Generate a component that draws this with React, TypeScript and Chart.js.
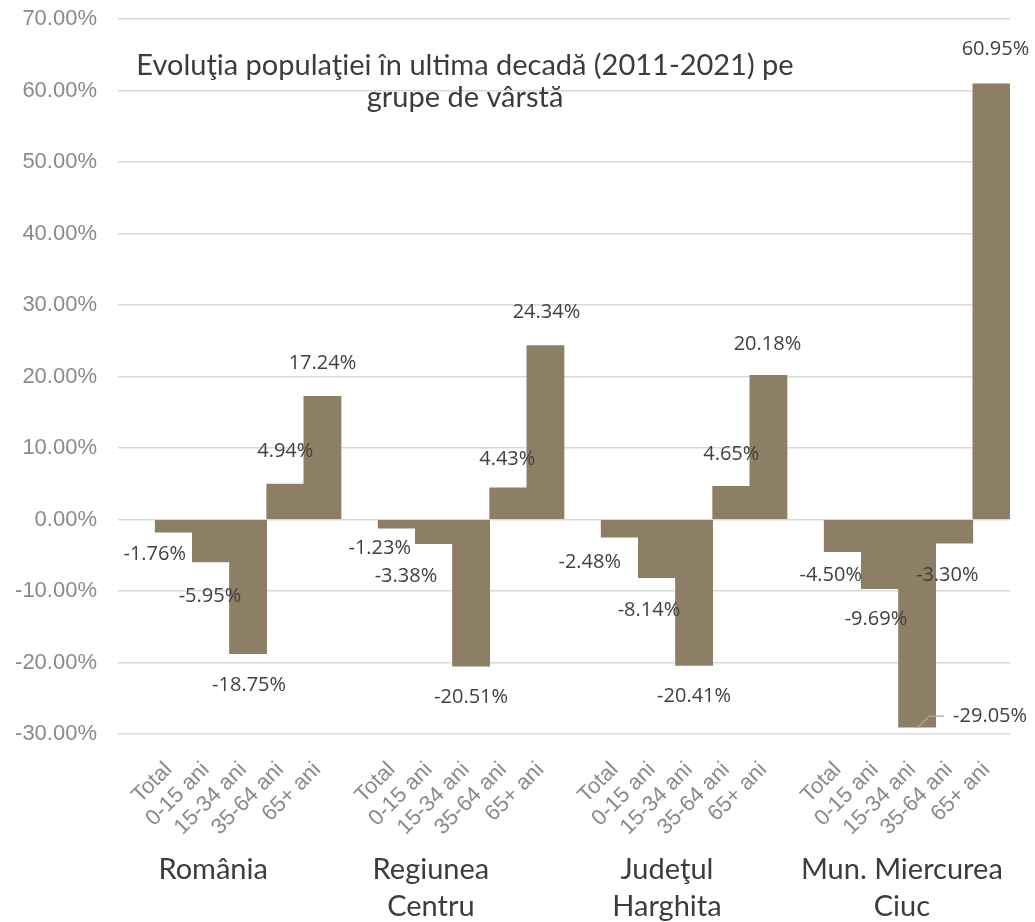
import React, { useEffect, useRef } from 'react';
import { Chart, registerables } from 'chart.js';

Chart.register(...registerables);

// ---- Data ----
const groupNames = ['România', 'Regiunea Centru', 'Judeţul Harghita', 'Mun. Miercurea Ciuc'];
const groupLabelLines = [['România'], ['Regiunea', 'Centru'], ['Judeţul', 'Harghita'], ['Mun. Miercurea', 'Ciuc']];
const ageGroups = ['Total', '0-15 ani', '15-34 ani', '35-64 ani', '65+ ani'];
const romania = [-1.76, -5.95, -18.75, 4.94, 17.24];
const regiuneaCentru = [-1.23, -3.38, -20.51, 4.43, 24.34];
const judetulHarghita = [-2.48, -8.14, -20.41, 4.65, 20.18];
const miercureaCiuc = [-4.5, -9.69, -29.05, -3.3, 60.95];
const yMin = -30;
const yMax = 70;
const yStep = 10;
const titleLines = ['Evoluţia populaţiei în ultima decadă (2011-2021) pe', 'grupe de vârstă'];

// ---- Label placement tweaks ----
// value labels: (dx, dy, leader line)
const labelNudges: [number, number, boolean?][] = [
  [-19, -9], [-1, 3], [1, 1], [0, -1], [0, -1],
  [-17, -11], [-28, 2], [0, 0], [-1, 3], [1, -1],
  [-30, -6], [-8, 2], [0, 0], [0, 0], [-1, 1],
  [-12, -7], [-4, 0], [73, -42, true], [-7, 1], [4, -2],
];
// group label centre, in category units after the group's first bar
const groupLabelShift = [1.06, 0.92, 1.27, 1.59];

const seriesByGroup = [romania, regiuneaCentru, judetulHarghita, miercureaCiuc];

const categoryLabels: string[] = [];
const values: (number | null)[] = [];
seriesByGroup.forEach((series) => {
  categoryLabels.push('');
  values.push(null);
  series.forEach((v, i) => {
    categoryLabels.push(ageGroups[i]);
    values.push(v);
  });
});

const BAR_COLOR = '#8D7F65';
const TEXT_DARK = '#404040';
const TEXT_GRAY = '#8A8A8A';

const valueLabelPlugin = {
  id: 'valueLabels',
  afterDatasetsDraw(chart: any) {
    const ctx = chart.ctx;
    const meta = chart.getDatasetMeta(0);
    const data = chart.data.datasets[0].data;
    ctx.save();
    ctx.font = '20px "Open Sans"';
    ctx.fillStyle = TEXT_DARK;
    ctx.textBaseline = 'middle';
    ctx.textAlign = 'center';
    let k = 0;
    meta.data.forEach((el: any, i: number) => {
      const v = data[i];
      if (v == null) return;
      const nudge = labelNudges[k++] || [0, 0];
      const off = v >= 0 ? -32 : 31;
      const x = el.x + nudge[0];
      const y = el.y + off + nudge[1];
      const text = v.toFixed(2) + '%';
      if (nudge[2]) {
        const w = ctx.measureText(text).width;
        ctx.save();
        ctx.strokeStyle = '#A6A6A6';
        ctx.lineWidth = 1.2;
        ctx.beginPath();
        ctx.moveTo(el.x + 1, el.y);
        ctx.lineTo(el.x + 12, y);
        ctx.lineTo(x - w / 2 - 9, y);
        ctx.stroke();
        ctx.restore();
      }
      ctx.fillText(text, x, y);
    });
    ctx.restore();
  },
};

const overlayTextPlugin = {
  id: 'overlayText',
  afterDraw(chart: any) {
    const ctx = chart.ctx;
    const area = chart.chartArea;
    const xScale = chart.scales.x;
    ctx.save();
    ctx.fillStyle = '#3C3C3C';
    ctx.textAlign = 'center';
    ctx.textBaseline = 'alphabetic';
    // title
    ctx.font = '29px Lato';
    const tx = area.left + 347;
    ctx.fillText(titleLines[0], tx, area.top + 56);
    ctx.fillText(titleLines[1], tx, area.top + 88);
    // group labels
    ctx.font = '29px Lato';
    groupLabelLines.forEach((lines, g) => {
      const totalIdx = g * (ageGroups.length + 1) + 1;
      const gx = xScale.getPixelForValue(totalIdx + groupLabelShift[g]);
      lines.forEach((line, li) => {
        ctx.fillText(line, gx, area.bottom + 145 + li * 37);
      });
    });
    ctx.restore();
  },
};

export default function App() {
  const canvasRef = useRef<HTMLCanvasElement | null>(null);

  useEffect(() => {
    document.body.style.margin = '0';
    const canvas = canvasRef.current;
    if (!canvas) return;
    const chart = new Chart(canvas, {
      type: 'bar',
      data: {
        labels: categoryLabels,
        datasets: [
          {
            label: 'Evoluţia populaţiei',
            data: values,
            backgroundColor: BAR_COLOR,
            borderWidth: 0,
            barPercentage: 1,
            categoryPercentage: 1,
          },
        ],
      },
      options: {
        responsive: false,
        maintainAspectRatio: false,
        animation: false,
        layout: { padding: { top: 19, right: 25, left: 0, bottom: 0 } },
        plugins: {
          legend: { display: false },
          tooltip: { enabled: false },
          title: { display: false },
        },
        scales: {
          x: {
            grid: { display: false },
            border: { display: false },
            ticks: {
              autoSkip: false,
              minRotation: 45,
              maxRotation: 45,
              color: TEXT_GRAY,
              font: { family: '"Liberation Sans", Arial', size: 22 },
              padding: 15,
              labelOffset: -5,
            },
            afterFit: (scale: any) => {
              scale.height = 188;
              scale.paddingLeft = 0;
              scale.paddingRight = 0;
              scale.paddingTop = 0;
              scale.paddingBottom = 0;
            },
          },
          y: {
            min: yMin,
            max: yMax,
            border: { display: false },
            grid: { color: '#D9D9D9', lineWidth: 1.5, drawTicks: false },
            ticks: {
              stepSize: yStep,
              color: TEXT_GRAY,
              padding: 21,
              font: { family: '"Liberation Sans", Arial', size: 22 },
              callback: (v: any) => Number(v).toFixed(2) + '%',
            },
            afterFit: (scale: any) => {
              scale.width = 118;
              scale.paddingTop = 0;
              scale.paddingBottom = 0;
              scale.paddingLeft = 0;
              scale.paddingRight = 0;
            },
          },
        },
      },
      plugins: [valueLabelPlugin, overlayTextPlugin],
    });
    return () => chart.destroy();
  }, []);

  return (
    <div style={{ width: 1035, height: 922 }}>
      <canvas ref={canvasRef} width={1035} height={922} aria-label={groupNames.join(', ')} />
    </div>
  );
}
